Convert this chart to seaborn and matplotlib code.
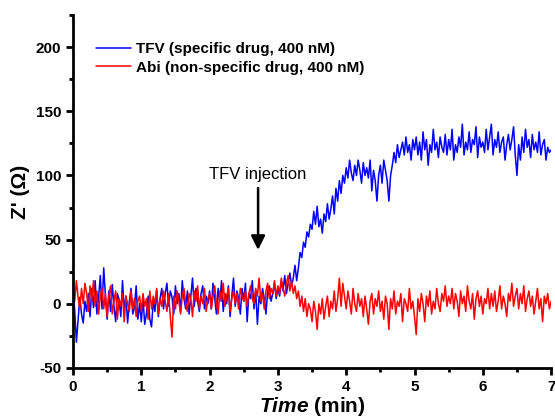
import numpy as np
import pandas as pd
import matplotlib
matplotlib.use('Agg')
import matplotlib.pyplot as plt
from matplotlib.ticker import MultipleLocator
import seaborn as sns

# Z' readings (ohm), one every 0.025 min from 0 to 7 min
tfv = [10, -5, -30, -12, 5, -8, -15, 2, -6, 8, -10, 12, -3, 18, -8, 5, 22, -4, 28, 6,
       -12, 10, -6, 15, -2, -14, 8, 3, -10, 18, -5, 6, -15, 2, 12, -8, -3, 14, -12, 0,
       -14, 4, -16, -8, 6, -12, -18, 2, -6, 10, -10, 4, 12, -4, 8, 16, -2, 10, 5, -8,
       14, 0, 8, -6, 18, 4, -4, 10, -8, 6, 20, -2, 12, 2, -6, 8, 14, -4, 6, 0,
       10, -4, 16, 4, -8, 12, 2, 18, -6, 8, 0, 14, -10, 6, 20, -2, 10, 4, -8, 12,
       2, 16, -14, 8, 4, 18, -4, 10, -16, 6, 0, 12, 4, -8, 10, 14, 2, 8, 16, 4,
       12, 6, 18, 10, 22, 8, 16, 24, 14, 20, 30, 18, 28, 40, 36, 48, 44, 56, 52, 62,
       58, 72, 62, 76, 60, 66, 55, 70, 64, 78, 66, 74, 84, 70, 90, 80, 96, 86, 100, 94,
       106, 98, 112, 102, 96, 108, 100, 112, 104, 94, 110, 100, 106, 98, 112, 88, 104, 96, 80, 100,
       108, 94, 112, 104, 96, 80, 100, 108, 118, 110, 124, 114, 120, 126, 116, 130, 118, 124, 112, 128,
       120, 130, 116, 126, 112, 134, 120, 128, 108, 124, 118, 136, 120, 126, 114, 130, 122, 118, 132, 116,
       128, 120, 136, 112, 124, 118, 130, 122, 140, 116, 126, 120, 134, 118, 128, 124, 138, 114, 130, 122,
       126, 118, 136, 120, 130, 140, 116, 128, 122, 134, 118, 126, 130, 112, 124, 132, 120, 128, 138, 116,
       100, 124, 112, 130, 118, 136, 122, 128, 114, 132, 120, 126, 118, 134, 116, 124, 128, 112, 122, 118,
       120]

abi = [15, 2, 18, 5, -4, 12, 0, 16, 8, -6, 14, 2, 18, -2, 10, -8, 6, 12, -4, 8,
       -10, 6, 14, -8, 2, 10, -12, 4, -2, 8, -14, 6, 0, -6, 10, -4, 4, -10, 2, 6,
       -6, 8, -2, 4, -12, 10, -4, 6, 0, 12, -8, 4, -2, 10, 2, -6, 8, -10, -26, 6,
       -4, 10, 2, -8, 6, 12, 0, -6, 8, 4, -10, 10, 2, 14, -4, 6, 0, 12, -6, 4,
       8, -4, 6, 14, 0, -8, 10, 2, 16, -2, 6, 12, -6, 4, 10, 0, 8, -4, 12, 6,
       2, 10, -2, 8, 14, 4, 0, 12, 6, 20, 2, 8, -4, 10, 16, 4, 12, 8, 18, 6,
       14, 8, 20, 12, 6, 16, 22, 10, 18, 8, 14, 4, 10, -2, 6, -6, 4, -10, 0, -4,
       -14, 2, -6, -20, 0, -8, 4, -12, -2, 6, -10, 2, -4, 10, -6, 4, 20, -2, 16, 6,
       -4, 10, 2, -8, 12, 0, -6, 8, -2, 4, -10, 6, -4, -16, 2, 8, -8, 4, -2, 10,
       -6, 2, -12, 6, 0, -20, 4, -4, 10, -8, 2, -2, 8, -14, 4, 0, -6, 12, -4, 2,
       -10, -24, 4, -6, 8, 0, -14, 6, -2, 10, -8, 2, -4, 12, 0, -6, 8, 2, 14, -2,
       6, 0, 12, -4, 8, 2, -10, 10, 0, 6, -6, 14, 2, -4, 8, -12, 4, 10, -2, 6,
       -8, 4, 0, 12, -4, 8, -2, 10, -6, 2, 14, -4, 6, 0, -10, 8, 2, 16, -2, 6,
       12, -4, 8, 0, 14, -6, 4, 10, -2, 6, -8, 2, 12, -4, 4, -14, 6, 0, 8, -4,
       2]

labels = ['TFV (specific drug, 400 nM)', 'Abi (non-specific drug, 400 nM)']
time = np.linspace(0, 7, len(tfv))

sns.set_style('ticks')
plt.rcParams['font.family'] = ['Liberation Sans', 'DejaVu Sans']
plt.rcParams['mathtext.fontset'] = 'custom'
plt.rcParams['mathtext.it'] = 'Liberation Sans:italic:bold'
plt.rcParams['mathtext.rm'] = 'Liberation Sans:bold'
plt.rcParams['axes.unicode_minus'] = False
plt.rcParams['axes.edgecolor'] = 'black'
plt.rcParams['xtick.color'] = 'black'
plt.rcParams['ytick.color'] = 'black'
plt.rcParams['text.color'] = 'black'
plt.rcParams['axes.labelcolor'] = 'black'

fig = plt.figure(figsize=(5.55, 4.2), dpi=100)
ax = fig.add_axes([0.1315, 0.124, 0.8615, 0.84])

sns.lineplot(x=time, y=tfv, ax=ax, color='#0000ff', lw=1.1, label=labels[0])
sns.lineplot(x=time, y=abi, ax=ax, color='#ff0000', lw=1.1, label=labels[1])

ax.set_xlim(0, 7)
ax.set_ylim(-50, 225)
ax.xaxis.set_major_locator(MultipleLocator(1))
ax.xaxis.set_minor_locator(MultipleLocator(0.5))
ax.yaxis.set_minor_locator(MultipleLocator(25))
ax.set_yticks([-50, 0, 50, 100, 150, 200])
ax.tick_params(which='major', length=5, width=2, direction='out', labelsize=11)
ax.tick_params(which='minor', length=3, width=2, direction='out')
for lab in ax.get_xticklabels() + ax.get_yticklabels():
    lab.set_fontweight('bold')
for s in ['top', 'right']:
    ax.spines[s].set_visible(False)
for s in ['left', 'bottom']:
    ax.spines[s].set_linewidth(2)

ax.set_xlabel(r'$\it{Time}$ (min)', fontsize=15, fontweight='bold', labelpad=1)
ax.set_ylabel("Z' (\u03a9)", fontsize=15, fontweight='bold', labelpad=4)

leg = ax.legend(loc='upper left', bbox_to_anchor=(0.02, 0.963), frameon=False,
                prop={'weight': 'bold', 'size': 11}, handlelength=2.3,
                handletextpad=0.3, labelspacing=0.3)

ax.annotate('TFV injection', xy=(2.71, 42), xytext=(2.71, 95),
            ha='center', va='bottom', fontsize=12,
            arrowprops=dict(arrowstyle='-|>,head_length=0.6,head_width=0.3',
                            color='k', lw=1.8, mutation_scale=14,
                            shrinkA=2, shrinkB=0))

fig.savefig('out.png', dpi=100)
